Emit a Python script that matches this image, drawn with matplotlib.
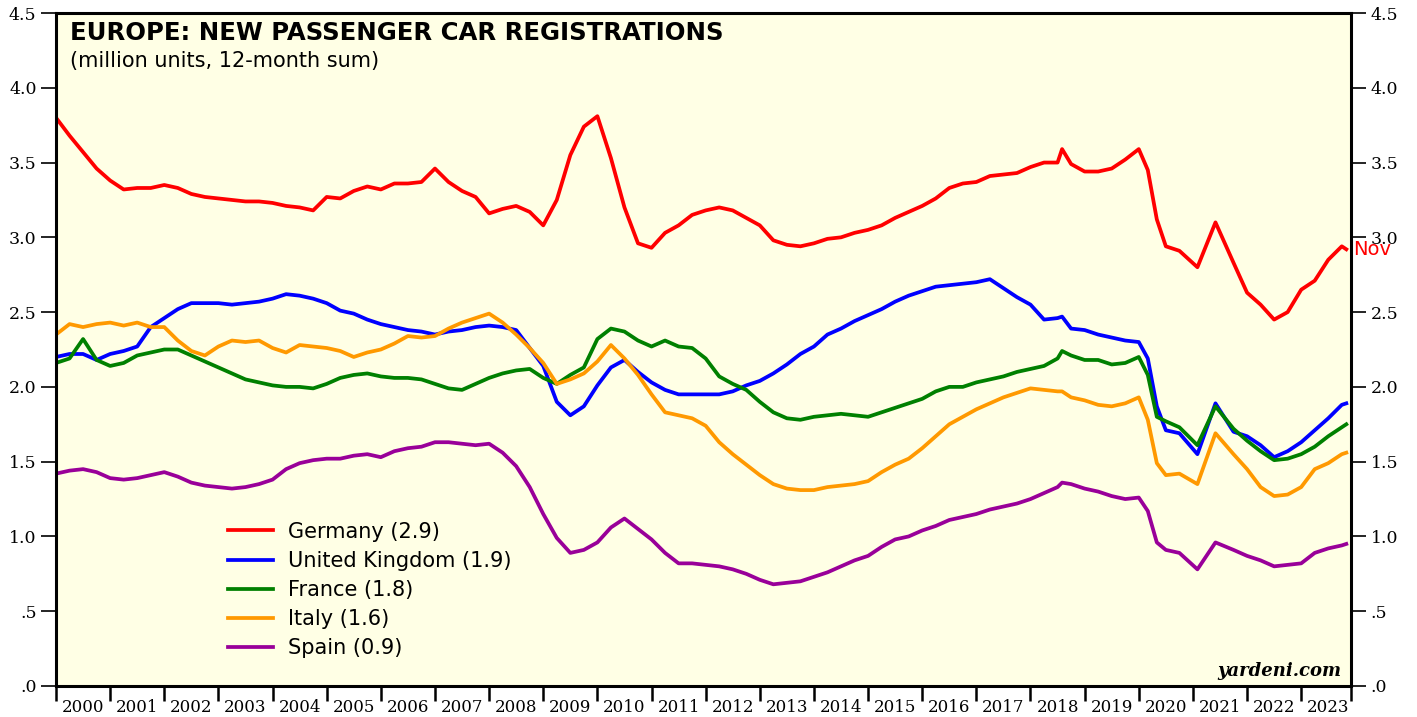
import numpy as np
import matplotlib.pyplot as plt

# months since Jan 2000 (quarterly, plus extra points where the lines jump)
months = (list(range(0, 223, 3)) + [223] + list(range(225, 240, 3))
          + [240, 242, 244, 246, 249, 253, 257, 261, 264, 267, 270, 273,
             276, 279, 282, 285, 286])

germany = [3.80, 3.68, 3.57, 3.46, 3.38, 3.32, 3.33, 3.33, 3.35, 3.33,
           3.29, 3.27, 3.26, 3.25, 3.24, 3.24, 3.23, 3.21, 3.20, 3.18,
           3.27, 3.26, 3.31, 3.34, 3.32, 3.36, 3.36, 3.37, 3.46, 3.37,
           3.31, 3.27, 3.16, 3.19, 3.21, 3.17, 3.08, 3.25, 3.55, 3.74,
           3.81, 3.53, 3.20, 2.96, 2.93, 3.03, 3.08, 3.15, 3.18, 3.20,
           3.18, 3.13, 3.08, 2.98, 2.95, 2.94, 2.96, 2.99, 3.00, 3.03,
           3.05, 3.08, 3.13, 3.17, 3.21, 3.26, 3.33, 3.36, 3.37, 3.41,
           3.42, 3.43, 3.47, 3.50, 3.50,
           3.59,
           3.49, 3.44, 3.44, 3.46, 3.52,
           3.59, 3.45, 3.12, 2.94, 2.91, 2.80, 3.10, 2.83, 2.63, 2.55,
           2.45, 2.50, 2.65, 2.71, 2.85, 2.94, 2.92]

uk = [2.20, 2.22, 2.22, 2.18, 2.22, 2.24, 2.27, 2.40, 2.46, 2.52,
      2.56, 2.56, 2.56, 2.55, 2.56, 2.57, 2.59, 2.62, 2.61, 2.59,
      2.56, 2.51, 2.49, 2.45, 2.42, 2.40, 2.38, 2.37, 2.35, 2.37,
      2.38, 2.40, 2.41, 2.40, 2.38, 2.26, 2.14, 1.90, 1.81, 1.87,
      2.01, 2.13, 2.18, 2.10, 2.03, 1.98, 1.95, 1.95, 1.95, 1.95,
      1.97, 2.01, 2.04, 2.09, 2.15, 2.22, 2.27, 2.35, 2.39, 2.44,
      2.48, 2.52, 2.57, 2.61, 2.64, 2.67, 2.68, 2.69, 2.70, 2.72,
      2.66, 2.60, 2.55, 2.45, 2.46,
      2.47,
      2.39, 2.38, 2.35, 2.33, 2.31,
      2.30, 2.19, 1.87, 1.71, 1.69, 1.55, 1.89, 1.70, 1.67, 1.61,
      1.53, 1.57, 1.63, 1.71, 1.79, 1.88, 1.89]

france = [2.16, 2.19, 2.32, 2.18, 2.14, 2.16, 2.21, 2.23, 2.25, 2.25,
          2.21, 2.17, 2.13, 2.09, 2.05, 2.03, 2.01, 2.00, 2.00, 1.99,
          2.02, 2.06, 2.08, 2.09, 2.07, 2.06, 2.06, 2.05, 2.02, 1.99,
          1.98, 2.02, 2.06, 2.09, 2.11, 2.12, 2.06, 2.02, 2.08, 2.13,
          2.32, 2.39, 2.37, 2.31, 2.27, 2.31, 2.27, 2.26, 2.19, 2.07,
          2.02, 1.98, 1.90, 1.83, 1.79, 1.78, 1.80, 1.81, 1.82, 1.81,
          1.80, 1.83, 1.86, 1.89, 1.92, 1.97, 2.00, 2.00, 2.03, 2.05,
          2.07, 2.10, 2.12, 2.14, 2.19,
          2.24,
          2.21, 2.18, 2.18, 2.15, 2.16,
          2.20, 2.08, 1.80, 1.77, 1.73, 1.61, 1.87, 1.72, 1.64, 1.57,
          1.51, 1.52, 1.55, 1.60, 1.67, 1.73, 1.75]

italy = [2.35, 2.42, 2.40, 2.42, 2.43, 2.41, 2.43, 2.40, 2.40, 2.31,
         2.24, 2.21, 2.27, 2.31, 2.30, 2.31, 2.26, 2.23, 2.28, 2.27,
         2.26, 2.24, 2.20, 2.23, 2.25, 2.29, 2.34, 2.33, 2.34, 2.39,
         2.43, 2.46, 2.49, 2.43, 2.35, 2.26, 2.16, 2.02, 2.05, 2.09,
         2.17, 2.28, 2.19, 2.08, 1.95, 1.83, 1.81, 1.79, 1.74, 1.63,
         1.55, 1.48, 1.41, 1.35, 1.32, 1.31, 1.31, 1.33, 1.34, 1.35,
         1.37, 1.43, 1.48, 1.52, 1.59, 1.67, 1.75, 1.80, 1.85, 1.89,
         1.93, 1.96, 1.99, 1.98, 1.97,
         1.97,
         1.93, 1.91, 1.88, 1.87, 1.89,
         1.93, 1.78, 1.49, 1.41, 1.42, 1.35, 1.69, 1.55, 1.45, 1.33,
         1.27, 1.28, 1.33, 1.45, 1.49, 1.55, 1.56]

spain = [1.42, 1.44, 1.45, 1.43, 1.39, 1.38, 1.39, 1.41, 1.43, 1.40,
         1.36, 1.34, 1.33, 1.32, 1.33, 1.35, 1.38, 1.45, 1.49, 1.51,
         1.52, 1.52, 1.54, 1.55, 1.53, 1.57, 1.59, 1.60, 1.63, 1.63,
         1.62, 1.61, 1.62, 1.56, 1.47, 1.33, 1.15, 0.99, 0.89, 0.91,
         0.96, 1.06, 1.12, 1.05, 0.98, 0.89, 0.82, 0.82, 0.81, 0.80,
         0.78, 0.75, 0.71, 0.68, 0.69, 0.70, 0.73, 0.76, 0.80, 0.84,
         0.87, 0.93, 0.98, 1.00, 1.04, 1.07, 1.11, 1.13, 1.15, 1.18,
         1.20, 1.22, 1.25, 1.29, 1.33,
         1.36,
         1.35, 1.32, 1.30, 1.27, 1.25,
         1.26, 1.17, 0.96, 0.91, 0.89, 0.78, 0.96, 0.91, 0.87, 0.84,
         0.80, 0.81, 0.82, 0.89, 0.92, 0.94, 0.95]

labels = ['Germany (2.9)', 'United Kingdom (1.9)', 'France (1.8)',
          'Italy (1.6)', 'Spain (0.9)']
colors = ['#ff0000', '#0000ff', '#008000', '#ff9900', '#990099']
ytick_labels = ['.0', '.5', '1.0', '1.5', '2.0', '2.5', '3.0', '3.5', '4.0', '4.5']
years = list(range(2000, 2024))

W, H = 1417, 717
fig = plt.figure(figsize=(W / 100, H / 100), dpi=100)
ax = fig.add_axes([56 / W, 1 - 686 / H, (1351 - 56) / W, (686 - 13) / H])
ax.set_facecolor('#ffffe5')

x = 2000 + np.array(months) / 12.0
for vals, lab, col in zip([germany, uk, france, italy, spain], labels, colors):
    ax.plot(x, vals, color=col, lw=2.7, label=lab, solid_joinstyle='round')

xend = 2023.92
ax.set_xlim(2000, xend)
ax.set_ylim(0, 4.5)

ax.set_yticks(np.arange(0, 4.51, 0.5))
ax.set_yticklabels(ytick_labels)
ax.tick_params(axis='y', direction='out', length=11, width=1.2, labelsize=12.5,
               left=True, right=True, labelleft=True, labelright=True, pad=3,
               labelfontfamily='DejaVu Serif')

ax.set_xticks(years + [xend])
ax.set_xticklabels([''] * (len(years) + 1))
ax.set_xticks([y + 0.5 for y in years], minor=True)
ax.set_xticklabels([str(y) for y in years], minor=True)
ax.tick_params(axis='x', which='major', direction='out', length=11, width=1.8)
ax.tick_params(axis='x', which='minor', length=0, pad=9, labelsize=12,
               labelfontfamily='DejaVu Serif')

for s in ax.spines.values():
    s.set_linewidth(2.2)

fig.text(70 / W, 1 - 40 / H, 'EUROPE: NEW PASSENGER CAR REGISTRATIONS',
         fontsize=17.6, fontweight='bold', va='baseline', ha='left')
fig.text(70 / W, 1 - 67 / H, '(million units, 12-month sum)',
         fontsize=15, va='baseline', ha='left')

ax.legend(loc='upper left', bbox_to_anchor=(0.1328, 0.244), frameon=False,
          fontsize=15, handlelength=2.15, handletextpad=0.72,
          labelspacing=0.44, borderpad=0, borderaxespad=0)

ax.annotate('Nov', xy=(x[-1], germany[-1]), xytext=(5, 0),
            textcoords='offset points', color='#ff0000', fontsize=14,
            va='center', ha='left', annotation_clip=False)

ax.text(0.9923, 0.015, 'yardeni.com', transform=ax.transAxes, ha='right',
        va='baseline', fontsize=13, fontweight='bold', fontstyle='italic',
        family='DejaVu Serif')

fig.savefig('out.png', dpi=100)
